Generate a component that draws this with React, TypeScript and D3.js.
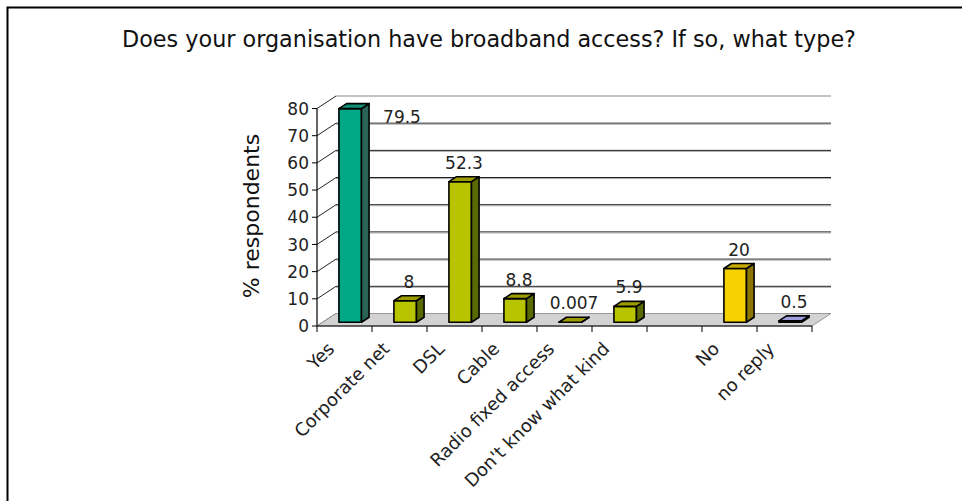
import React from "react";
import * as d3 from "d3";

const categories = ["Yes", "Corporate net", "DSL", "Cable", "Radio fixed access", "Don't know what kind", "", "No", "no reply"];
const values: (number | null)[] = [79.5, 8, 52.3, 8.8, 0.007, 5.9, null, 20, 0.5];
const labels = ["79.5", "8", "52.3", "8.8", "0.007", "5.9", "", "20", "0.5"];
const yTicks = [0, 10, 20, 30, 40, 50, 60, 70, 80];
const title = "Does your organisation have broadband access? If so, what type?";
const yTitle = "% respondents";

const palette: Record<string, { front: string; top: string; side: string }> = {
  teal: { front: "#00a887", top: "#0f8f73", side: "#2a6456" },
  lime: { front: "#b8c400", top: "#9c9c00", side: "#5a6a00" },
  gold: { front: "#f5d200", top: "#c9aa00", side: "#8a7600" },
  lav: { front: "#8c8cd0", top: "#9e9edc", side: "#5a5a90" },
};
const barStyle = ["teal", "lime", "lime", "lime", "lime", "lime", "lime", "gold", "lav"];

const W = 962;
const H = 501;
const DX = 19;
const DY = -12.5;
const D1 = 0.3;
const D2 = 0.7;
const FONT = "'DejaVu Sans', Verdana, sans-serif";

export default function App() {
  const x = d3.scaleBand<number>().domain(categories.map((_, i) => i)).range([317, 812]).paddingInner(0);
  const y = d3.scaleLinear().domain([0, 80]).range([326, 108.5]);
  const yBar = d3.scaleLinear().domain([0, 80]).range([326, 111]);
  const bw = x.bandwidth();
  const barW = bw * 0.41;
  const x0 = x.range()[0];
  const x1 = x.range()[1];
  const y0 = y(0);
  const yTop = y(80);

  const pts = (arr: [number, number][]) => arr.map((p) => p.join(",")).join(" ");

  const bars = values.map((v, i) => {
    if (v === null) return null;
    const st = palette[barStyle[i]];
    const fl = (x(i) as number) + (bw - barW) / 2 + DX * D1;
    const fr = fl + barW;
    const fb = y0 + DY * D1;
    const ft = yBar(v) + DY * D1;
    const ox = DX * (D2 - D1);
    const oy = DY * (D2 - D1);
    return (
      <g key={i} stroke="#000" strokeWidth={1.6} strokeLinejoin="round">
        <polygon points={pts([[fl, fb], [fr, fb], [fr, ft], [fl, ft]])} fill={st.front} />
        <polygon points={pts([[fr, fb], [fr + ox, fb + oy], [fr + ox, ft + oy], [fr, ft]])} fill={st.side} />
        <polygon points={pts([[fl, ft], [fr, ft], [fr + ox, ft + oy], [fl + ox, ft + oy]])} fill={st.top} />
      </g>
    );
  });

  const dataLabels = values.map((v, i) => {
    if (v === null) return null;
    const cx = (x(i) as number) + bw / 2 + DX * (D1 + D2) / 2;
    const topBack = yBar(v) + DY * D2;
    let ly = topBack - 8;
    let lx = cx;
    const minY = yTop + DY + 27;
    if (ly < minY) {
      ly = minY;
      lx = cx + 48;
    }
    return (
      <text key={i} x={lx} y={ly} textAnchor="middle" fontSize={17} fill="#222">
        {labels[i]}
      </text>
    );
  });

  return (
    <div style={{ position: "absolute", left: 0, top: 0 }}>
      <svg width={W} height={H} style={{ display: "block", fontFamily: FONT }}>
        <rect x={0} y={0} width={W} height={H} fill="#fff" />
        <rect x={7.5} y={7.5} width={W + 20} height={H + 20} fill="none" stroke="#000" strokeWidth={2} />
        <text x={489} y={47} textAnchor="middle" fontSize={22.3} fill="#111">
          {title}
        </text>

        {/* back wall */}
        <rect x={x0 + DX} y={yTop + DY} width={x1 - x0} height={y0 - yTop} fill="#fff" />
        {yTicks.map((t) => (
          <g key={t}>
            <line x1={x0 + DX} x2={x1 + DX} y1={y(t) + DY} y2={y(t) + DY} stroke={t === 80 ? "#888" : "#111"} strokeWidth={1} />
            {t !== 80 && t !== 0 && (
              <line x1={x0 + DX} x2={x1 + DX} y1={y(t) + DY + 1} y2={y(t) + DY + 1} stroke="#aaa" strokeWidth={1} />
            )}
            <line x1={x0} x2={x0 + DX} y1={y(t)} y2={y(t) + DY} stroke="#222" strokeWidth={1} />
          </g>
        ))}

        {/* floor */}
        <polygon
          points={pts([[x0, y0], [x1, y0], [x1 + DX, y0 + DY], [x0 + DX, y0 + DY]])}
          fill="#d2d2d2"
          stroke="#999"
          strokeWidth={1}
        />

        {bars}

        {/* axes */}
        <line x1={x0} x2={x0} y1={yTop} y2={y0} stroke="#000" strokeWidth={1.2} />
        <line x1={x0} x2={x1} y1={y0} y2={y0} stroke="#000" strokeWidth={1.2} />
        {yTicks.map((t) => (
          <g key={t}>
            <line x1={x0 - 5} x2={x0} y1={y(t)} y2={y(t)} stroke="#000" strokeWidth={1} />
            <text x={309} y={y(t)} dy="0.36em" textAnchor="end" fontSize={17} fill="#222">
              {t}
            </text>
          </g>
        ))}
        {categories.map((_, i) => (
          <line key={"t" + i} x1={x(i) as number} x2={x(i) as number} y1={y0} y2={y0 + 6} stroke="#000" strokeWidth={1} />
        ))}
        <line x1={x1} x2={x1} y1={y0} y2={y0 + 6} stroke="#000" strokeWidth={1} />

        {categories.map((c, i) => {
          const ax = (x(i) as number) + bw / 2 - 9;
          const ay = 350;
          return (
            <text
              key={"c" + i}
              x={ax}
              y={ay}
              textAnchor="end"
              fontSize={18}
              fill="#222"
              transform={`rotate(-45 ${ax} ${ay})`}
            >
              {c}
            </text>
          );
        })}

        {dataLabels}

        <text x={0} y={0} textAnchor="middle" fontSize={22} fill="#111" transform={`translate(259 216) rotate(-90)`}>
          {yTitle}
        </text>
      </svg>
    </div>
  );
}
